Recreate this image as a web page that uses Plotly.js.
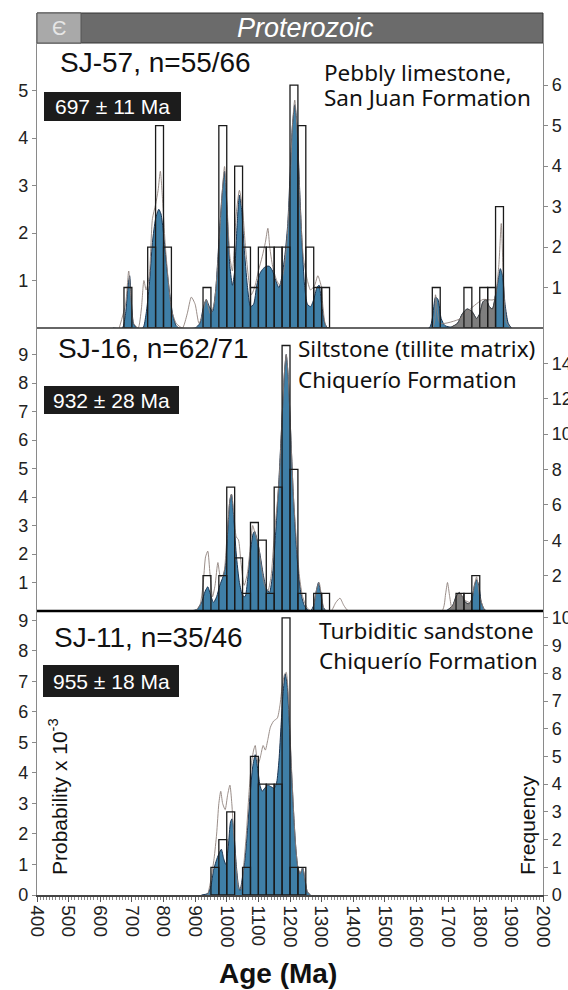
<!DOCTYPE html>
<html><head><meta charset="utf-8">
<script src="https://cdn.plot.ly/plotly-3.0.1.min.js"></script>
<style>html,body{margin:0;padding:0;background:#fff;}#chart{width:568px;height:990px;}</style>
</head><body><div id="chart"></div>
<script>
// ---------- DATA ----------
const binWidth = 25;
// Panel 1: SJ-57
const sj57BinStart = [675,750,775,800,925,975,1000,1025,1050,1075,1100,1125,1150,1175,1200,1225,1250,1275,1300,1650,1750,1800,1825,1850];
const sj57Counts   = [1,2,5,2,1,5,2,4,2,1,2,2,2,2,6,5,2,1,1,1,1,1,1,3];
const sj57PdfAge = [640,670,680,688,693,698,705,715,735,745,755,765,775,785,792,800,810,820,830,840,850,900,915,925,935,945,955,965,975,985,993,1000,1010,1018,1025,1033,1040,1047,1055,1065,1075,1085,1095,1105,1115,1125,1135,1145,1155,1165,1175,1185,1193,1200,1207,1215,1222,1230,1238,1246,1255,1265,1275,1285,1292,1300,1310,1320,1640,1650,1660,1668,1678,1690,1710,1730,1745,1760,1775,1790,1800,1810,1820,1830,1840,1850,1858,1865,1872,1880,1890,1900];
const sj57Pdf    = [0,0,0.3,0.9,1.1,0.6,0.1,0,0,0.3,0.9,1.8,2.3,2.5,2.4,2.0,1.3,0.7,0.25,0.05,0,0,0.1,0.4,0.6,0.45,0.35,0.8,1.8,2.8,3.3,2.6,1.3,0.9,1.2,2.2,2.8,2.5,1.7,0.9,0.45,0.5,0.9,1.15,1.25,1.3,1.3,1.2,1.0,0.85,1.1,1.6,2.2,3.2,4.2,4.7,4.3,3.0,1.8,0.9,0.5,0.45,0.6,0.85,0.9,0.5,0.1,0,0,0.2,0.65,0.6,0.2,0.05,0.02,0.1,0.3,0.4,0.35,0.2,0.3,0.55,0.6,0.45,0.4,0.7,1.0,1.25,1.1,0.5,0.1,0];
const sj57AltAge = [660,680,690,697,705,720,730,738,745,755,765,775,783,790,797,805,815,825,840,860,875,888,900,912,920,935,948,960,975,985,993,1000,1010,1018,1030,1040,1050,1058,1068,1078,1090,1100,1112,1122,1130,1136,1145,1158,1168,1180,1190,1200,1208,1215,1222,1232,1242,1255,1265,1278,1288,1298,1305,1318,1650,1660,1675,1740,1770,1810,1845,1860,1868,1875,1885,1900];
const sj57Alt    = [0,0.5,1.2,0.6,0.1,0,0.4,1.0,0.8,1.1,2.3,2.6,2.9,3.3,2.7,1.8,1.0,0.4,0.1,0,0.3,0.65,0.5,0.1,0.2,0.6,0.3,0.5,1.7,2.8,3.4,2.7,1.5,1.2,2.4,2.9,2.5,1.8,1.1,0.7,0.9,1.2,1.5,1.8,2.1,1.7,1.3,1.0,0.9,1.2,1.8,3.0,4.3,4.8,4.2,2.6,1.5,1.0,0.8,0.9,1.1,0.9,0.4,0,0,0.7,0.1,0.2,0.4,0.6,0.6,1.3,2.2,1.0,0.1,0];
const sj57GreyRange = [1695,1850];

// Panel 2: SJ-16
const sj16BinStart = [925,975,1000,1025,1050,1075,1100,1125,1150,1175,1200,1225,1275,1300,1725,1750,1775];
const sj16Counts   = [2,2,7,3,1,5,4,1,7,15,8,1,1,1,1,1,2];
const sj16PdfAge = [880,905,920,932,940,948,958,968,978,988,996,1003,1010,1015,1022,1030,1040,1050,1058,1066,1075,1083,1088,1096,1105,1115,1125,1135,1145,1155,1165,1175,1182,1188,1194,1202,1210,1218,1226,1235,1245,1255,1265,1275,1283,1290,1296,1305,1315,1690,1700,1715,1725,1735,1745,1755,1765,1775,1783,1790,1797,1805,1815,1825];
const sj16Pdf    = [0,0.05,0.3,0.7,0.85,0.6,0.3,0.5,0.9,1.2,1.6,2.8,3.9,4.1,3.3,2.0,1.0,0.55,0.5,1.1,2.1,2.7,2.8,2.5,2.0,1.3,0.8,0.65,1.3,2.8,4.6,6.8,8.3,9.0,8.3,6.3,4.2,2.6,1.4,0.6,0.2,0.05,0,0.2,0.7,1.0,0.7,0.15,0,0,0.05,0.2,0.5,0.65,0.5,0.3,0.25,0.4,0.9,1.1,0.9,0.3,0.05,0];
const sj16AltAge = [900,915,925,933,940,947,955,963,972,980,990,1000,1010,1015,1022,1030,1037,1045,1055,1065,1075,1082,1090,1100,1110,1120,1130,1140,1150,1165,1175,1182,1188,1194,1202,1210,1220,1230,1240,1255,1270,1285,1292,1300,1310,1330,1345,1358,1370,1385,1680,1692,1698,1705,1712,1725,1740,1750,1770,1785,1790,1800,1815];
const sj16Alt    = [0,0.2,0.9,1.9,2.1,1.3,0.5,0.9,1.7,1.2,1.3,2.5,3.9,4.1,3.5,2.6,2.5,1.7,0.9,1.3,2.3,3.0,2.7,2.3,1.5,0.9,0.7,1.2,2.6,4.5,6.8,8.3,9.0,8.3,6.3,4.2,2.5,1.2,0.5,0.1,0,0.8,1.0,0.5,0,0,0.3,0.45,0.2,0,0,0.6,1.0,0.5,0.1,0.4,0.6,0.4,0.3,1.0,1.2,0.5,0];
const sj16GreyRange = [1700,1775];

// Panel 3: SJ-11
const sj11BinStart = [950,975,1000,1050,1075,1100,1125,1150,1175,1200,1225];
const sj11Counts   = [1,2,3,1,5,4,4,4,10,1,1];
const sj11PdfAge = [920,940,950,958,966,975,983,990,997,1005,1012,1017,1023,1030,1037,1042,1050,1058,1066,1074,1082,1090,1097,1105,1112,1120,1130,1140,1150,1158,1165,1172,1178,1185,1191,1198,1205,1212,1218,1225,1232,1240,1246,1255,1265];
const sj11Pdf    = [0,0.05,0.3,0.8,1.1,1.35,1.5,1.2,1.0,1.6,2.4,2.5,2.0,1.0,0.3,0.15,0.6,1.2,2.2,3.3,4.2,4.6,4.2,3.6,3.4,3.5,3.6,3.55,3.5,3.7,4.4,5.6,6.6,7.25,6.9,5.6,4.0,2.6,1.6,0.9,0.7,0.9,0.6,0.1,0];
const sj11AltAge = [940,950,960,968,975,981,987,995,1003,1010,1016,1022,1030,1038,1045,1053,1062,1070,1078,1085,1090,1095,1100,1108,1115,1122,1130,1138,1148,1160,1168,1175,1182,1188,1195,1202,1212,1218,1225,1232,1240,1246,1255,1265];
const sj11Alt    = [0,0.5,1.2,2.0,3.0,3.4,3.0,2.8,3.3,3.6,3.0,2.0,0.9,0.2,0.2,0.9,2.0,3.3,4.3,4.75,4.9,4.5,4.3,4.6,4.9,4.75,5.1,5.5,5.7,5.8,6.2,6.8,7.2,7.3,6.5,4.8,2.6,1.6,0.9,0.7,0.9,0.6,0.1,0];

const xTickVals = [400,500,600,700,800,900,1000,1100,1200,1300,1400,1500,1600,1700,1800,1900,2000];

// ---------- LAYOUT HELPERS ----------
const L = 37, R = 543, T = 43, B = 895;
const px2x = px => (px - L) / (R - L);
const py2y = py => (B - py) / (B - T);
const FONT = 'Liberation Sans, Arial, sans-serif';
const HUM = 'Noto Sans, Open Sans, sans-serif';

const blue = '#3f7fa7', blueLine = '#1b3553', greyFill = '#7e7e7e', altCol = '#8e817c';

function panelTraces(yL, yR, pdfX, pdfY, altX, altY, bins, counts, greyRange) {
  const tr = [];
  tr.push({type:'scatter', x:pdfX, y:pdfY, yaxis:yL, mode:'lines', line:{color:blueLine, width:1, shape:'spline', smoothing:0.6}, fill:'tozeroy', fillcolor:blue, hoverinfo:'skip'});
  if (greyRange) {
    const gx = [], gy = [];
    pdfX.forEach((v,i)=>{ if (v>=greyRange[0] && v<=greyRange[1]) { gx.push(v); gy.push(pdfY[i]); } });
    tr.push({type:'scatter', x:gx, y:gy, yaxis:yL, mode:'lines', line:{color:'#4a4a4a', width:1, shape:'spline', smoothing:0.6}, fill:'tozeroy', fillcolor:greyFill, hoverinfo:'skip'});
  }
  tr.push({type:'scatter', x:altX, y:altY, yaxis:yL, mode:'lines', line:{color:altCol, width:0.9, shape:'spline', smoothing:0.6}, hoverinfo:'skip'});
  tr.push({type:'bar', x:bins, y:counts, yaxis:yR, width:binWidth, offset:0, marker:{color:'rgba(255,255,255,0)', line:{color:'#1a1a1a', width:1.3}}, hoverinfo:'skip'});
  return tr;
}

const data = [
  ...panelTraces('y','y2', sj11PdfAge, sj11Pdf, sj11AltAge, sj11Alt, sj11BinStart, sj11Counts, null),
  ...panelTraces('y3','y4', sj16PdfAge, sj16Pdf, sj16AltAge, sj16Alt, sj16BinStart, sj16Counts, sj16GreyRange),
  ...panelTraces('y5','y6', sj57PdfAge, sj57Pdf, sj57AltAge, sj57Alt, sj57BinStart, sj57Counts, sj57GreyRange),
];

const yBase = {showline:true, linecolor:'#8a8a8a', linewidth:1.2, ticks:'outside', ticklen:4, tickcolor:'#8a8a8a', showgrid:false, zeroline:false, tickfont:{family:FONT, size:18, color:'#222'}, fixedrange:true};
const d3 = [0, py2y(611)], d2 = [py2y(611), py2y(328)], d1 = [py2y(328), 1];

const layout = {
  width:568, height:990, margin:{l:L, r:568-R, t:T, b:990-B},
  paper_bgcolor:'#fff', plot_bgcolor:'rgba(0,0,0,0)', showlegend:false, barmode:'overlay',
  xaxis:{range:[400,2000], tickvals:xTickVals, ticktext:xTickVals.map(String), tickangle:90, ticks:'outside', ticklen:5, tickcolor:'#555',
         minor:{dtick:10, ticks:'outside', ticklen:3, tickcolor:'#888'},
         showline:true, linecolor:'#444', linewidth:1.5, showgrid:false, zeroline:false, anchor:'y',
         tickfont:{family:FONT, size:19, color:'#222'}, fixedrange:true},
  yaxis: Object.assign({}, yBase, {domain:d3, range:[0,9.31], tickvals:[0,1,2,3,4,5,6,7,8,9], anchor:'x'}),
  yaxis2:Object.assign({}, yBase, {range:[0,10.25], tickvals:[0,1,2,3,4,5,6,7,8,9,10], overlaying:'y', side:'right', anchor:'x'}),
  yaxis3:Object.assign({}, yBase, {domain:d2, range:[0,9.93], tickvals:[1,2,3,4,5,6,7,8,9], anchor:'x'}),
  yaxis4:Object.assign({}, yBase, {range:[0,15.99], tickvals:[2,4,6,8,10,12,14], overlaying:'y3', side:'right', anchor:'x'}),
  yaxis5:Object.assign({}, yBase, {domain:d1, range:[0,6.0], tickvals:[1,2,3,4,5], anchor:'x'}),
  yaxis6:Object.assign({}, yBase, {range:[0,7.04], tickvals:[1,2,3,4,5,6], overlaying:'y5', side:'right', anchor:'x'}),
  shapes:[
    {type:'rect', xref:'paper', yref:'paper', x0:0, x1:1, y0:1, y1:py2y(13), fillcolor:'#6b6b6b', line:{color:'#333', width:1}},
    {type:'rect', xref:'paper', yref:'paper', x0:0, x1:px2x(81), y0:1, y1:py2y(13), fillcolor:'#a9a9a9', line:{color:'#555', width:1}},
    {type:'line', xref:'paper', yref:'paper', x0:0, x1:1, y0:py2y(328), y1:py2y(328), line:{color:'#333', width:1.5}},
    {type:'line', xref:'paper', yref:'paper', x0:0, x1:1, y0:py2y(611), y1:py2y(611), line:{color:'#000', width:2.5}},
    {type:'rect', xref:'paper', yref:'paper', x0:px2x(44), x1:px2x(181), y0:py2y(121), y1:py2y(92), fillcolor:'#1c1c1c', line:{width:0}},
    {type:'rect', xref:'paper', yref:'paper', x0:px2x(44), x1:px2x(179), y0:py2y(414), y1:py2y(386), fillcolor:'#1c1c1c', line:{width:0}},
    {type:'rect', xref:'paper', yref:'paper', x0:px2x(43), x1:px2x(179), y0:py2y(697), y1:py2y(665), fillcolor:'#1c1c1c', line:{width:0}},
  ],
  annotations:[]
};

function txt(text, xpx, ypx, opts) {
  return Object.assign({text, xref:'paper', yref:'paper', x:px2x(xpx), y:py2y(ypx), showarrow:false, xanchor:'left', yanchor:'middle', font:{family:FONT, size:18, color:'#111'}}, opts||{});
}
layout.annotations.push(
  txt('Є', 59, 28, {xanchor:'center', font:{family:FONT, size:20, color:'#e6e6e6'}}),
  txt('<i>Proterozoic</i>', 305, 28, {xanchor:'center', font:{family:FONT, size:27, color:'#fff'}}),
  txt('SJ-57, n=55/66', 58, 62, {font:{family:FONT, size:28, color:'#111'}}),
  txt('SJ-16, n=62/71', 56, 348, {font:{family:FONT, size:28, color:'#111'}}),
  txt('SJ-11, n=35/46', 52, 637, {font:{family:FONT, size:28, color:'#111'}}),
  txt('697 ± 11 Ma', 112.5, 107, {xanchor:'center', font:{family:FONT, size:21, color:'#fff'}}),
  txt('932 ± 28 Ma', 111.5, 400, {xanchor:'center', font:{family:FONT, size:21, color:'#fff'}}),
  txt('955 ± 18 Ma', 111, 681, {xanchor:'center', font:{family:FONT, size:21, color:'#fff'}}),
  txt('Pebbly limestone,', 322, 72, {font:{family:HUM, size:22.5, color:'#111'}}),
  txt('San Juan Formation', 322, 97, {font:{family:HUM, size:22.5, color:'#111'}}),
  txt('Siltstone (tillite matrix)', 296, 349, {font:{family:HUM, size:22.5, color:'#111'}}),
  txt('Chiquerío Formation', 296, 379, {font:{family:HUM, size:22.5, color:'#111'}}),
  txt('Turbiditic sandstone', 317, 630, {font:{family:HUM, size:22.5, color:'#111'}}),
  txt('Chiquerío Formation', 317, 661, {font:{family:HUM, size:22.5, color:'#111'}}),
  txt('Probability x 10<sup>-3</sup>', 58, 797, {xanchor:'center', textangle:-90, font:{family:FONT, size:21, color:'#111'}}),
  txt('Frequency', 527, 825, {xanchor:'center', textangle:-90, font:{family:FONT, size:21, color:'#111'}}),
  txt('<b>Age (Ma)</b>', 278, 973, {xanchor:'center', font:{family:FONT, size:28, color:'#111'}})
);

Plotly.newPlot('chart', data, layout, {staticPlot:true, displayModeBar:false});
</script></body></html>
